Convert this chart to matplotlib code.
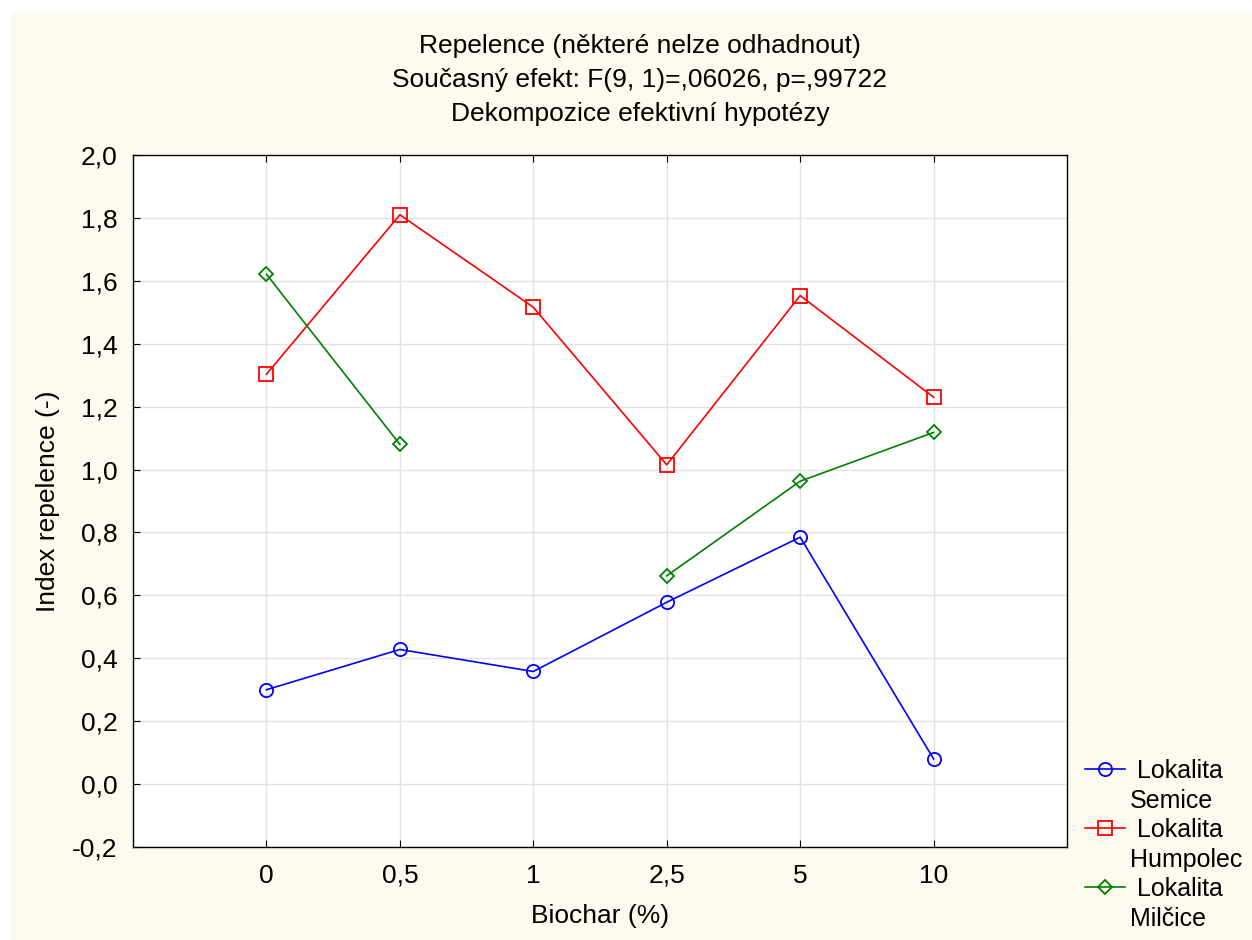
import numpy as np
import matplotlib
matplotlib.use("Agg")
from matplotlib import pyplot as plt
from matplotlib.lines import Line2D
from matplotlib.patches import Rectangle
from matplotlib.ticker import FuncFormatter, FixedLocator

plt.rcParams['font.family'] = ['Liberation Sans', 'DejaVu Sans']

# data
categories = ["0", "0,5", "1", "2,5", "5", "10"]
semice = [0.300, 0.428, 0.358, 0.578, 0.785, 0.080]
humpolec = [1.303, 1.810, 1.516, 1.015, 1.553, 1.230]
milcice = [1.621, 1.080, np.nan, 0.662, 0.963, 1.118]

title_lines = ["Repelence (některé nelze odhadnout)",
               "Současný efekt: F(9, 1)=,06026, p=,99722",
               "Dekompozice efektivní hypotézy"]

W, H = 1252, 940
FS = 19
fig = plt.figure(figsize=(W / 100, H / 100), dpi=100, facecolor='white')
# cream panel behind everything
fig.patches.append(Rectangle((11 / W, -0.01), 1, 1.01 - 13 / H, transform=fig.transFigure,
                             facecolor='#FDF9EE', edgecolor='none', zorder=-10))

ax = fig.add_axes([133 / W, 1 - 847 / H, (1067 - 133) / W, (847 - 155) / H])
ax.set_facecolor('white')

x = np.arange(len(categories))
l1, = ax.plot(x, semice, color='#0000FF', marker='o', ms=9.5, mfc='none', mew=1.3, lw=1.2)
l2, = ax.plot(x, humpolec, color='#FF0000', marker='s', ms=10, mfc='none', mew=1.3, lw=1.2)
l3, = ax.plot(x, milcice, color='#008000', marker='D', ms=7.3, mfc='none', mew=1.3, lw=1.2)

ax.set_xlim(-1, 6)
ax.set_ylim(-0.2, 2.0)
ax.set_xticks(x)
ax.set_xticklabels(categories)
ax.yaxis.set_major_locator(FixedLocator(np.arange(-0.2, 2.01, 0.2)))
ax.yaxis.set_major_formatter(FuncFormatter(lambda v, p: ("%.1f" % v).replace('.', ',').replace('-0,0', '0,0')))
ax.grid(True, color='#E2E2E2', lw=1)
ax.set_axisbelow(True)
ax.tick_params(direction='in', length=5, labelsize=FS, top=True, right=False)
ax.tick_params(axis='x', pad=12)
ax.tick_params(axis='y', pad=11)
for s in ax.spines.values():
    s.set_linewidth(1.0)
    s.set_color('black')

ax.set_xlabel("Biochar (%)", fontsize=FS, labelpad=12)
ax.set_ylabel("Index repelence (-)", fontsize=FS, labelpad=9)

fig.text(640 / W, 1 - 80 / H, "\n".join(title_lines), ha='center', va='center',
         fontsize=FS, linespacing=1.5)

blank = Line2D([], [], color='none')
fig.legend([l1, blank, l2, blank, l3, blank],
           [" Lokalita", "Semice", " Lokalita", "Humpolec", " Lokalita", "Milčice"],
           loc='upper left', bbox_to_anchor=(1085 / W, 1 - 759 / H), frameon=False,
           fontsize=18, labelspacing=0.22, handlelength=1.6, handletextpad=0.2,
           borderpad=0, borderaxespad=0)

fig.savefig("out.png", dpi=100, facecolor=fig.get_facecolor())
